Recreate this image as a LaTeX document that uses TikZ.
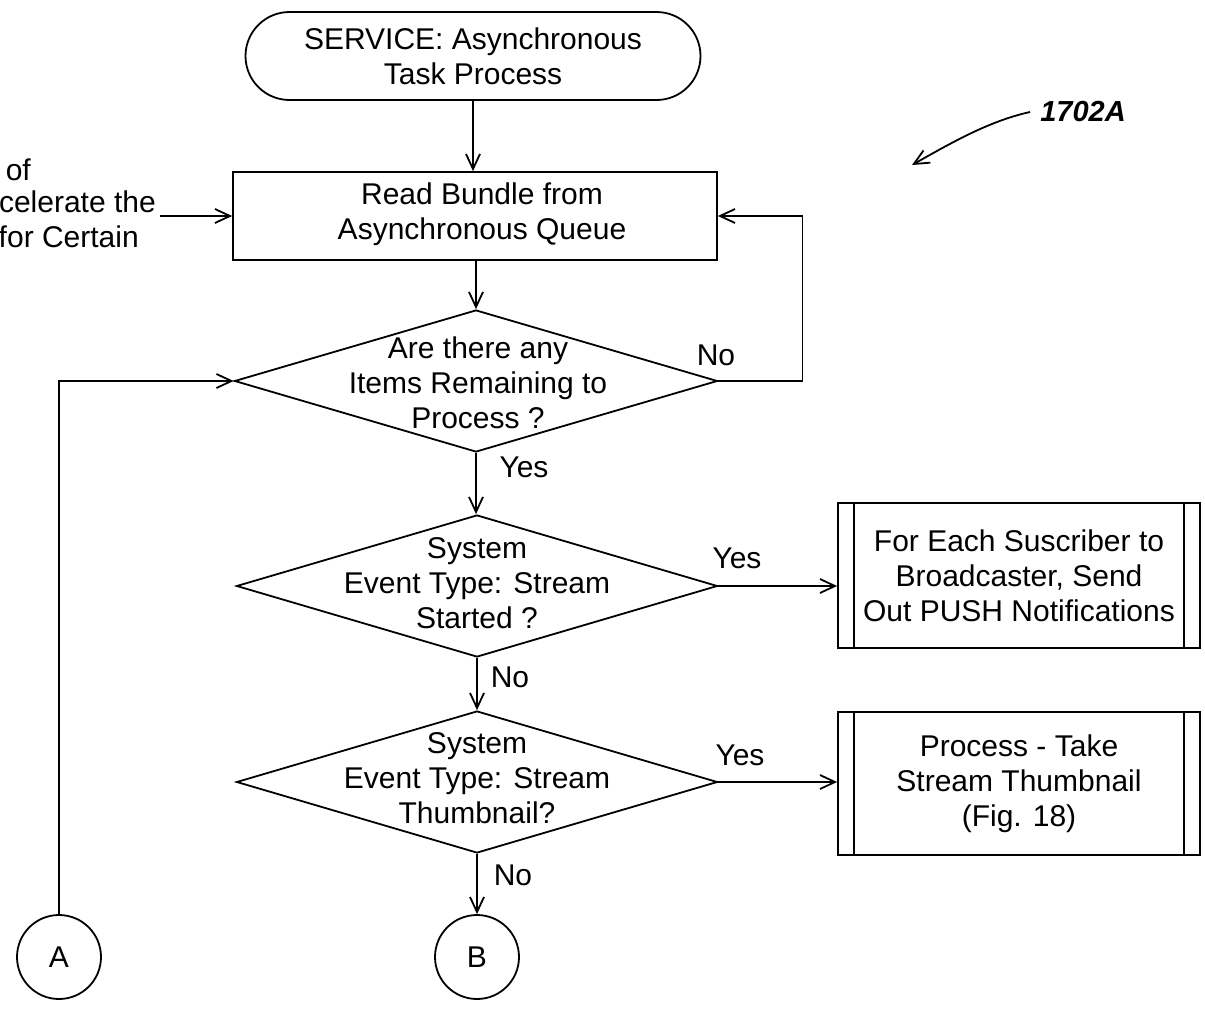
\documentclass[tikz,border=0pt]{standalone}
\usepackage{fontspec}
\setmainfont{Liberation Sans}
\usetikzlibrary{arrows.meta,shapes.geometric}
\begin{document}
\begin{tikzpicture}[x=1pt,y=-1pt,
  every node/.style={font=\fontsize{30}{35}\selectfont, align=center, inner sep=0pt},
  shapeline/.style={draw, line width=1.8pt},
  conn/.style={draw, line width=1.8pt, -{Straight Barb[length=15pt,width=14pt,line width=1.8pt]}},
  term/.style={shapeline, rectangle, rounded corners=44pt, minimum width=455pt, minimum height=88pt},
  procbox/.style={shapeline, rectangle, minimum width=484pt, minimum height=88pt},
  decision/.style={shapeline, diamond, minimum width=483pt, minimum height=142pt},
  predef/.style={shapeline, rectangle, minimum width=362pt, minimum height=145pt},
  conncircle/.style={shapeline, circle, minimum size=84pt},
  reflabel/.style={font=\fontsize{29}{35}\selectfont\bfseries\itshape}
]
\useasboundingbox (0,0) rectangle (1205,1009);

% shapes
\node[term] (start) at (473,56) {SERVICE: Asynchronous\\Task Process};
\node[procbox] (read) at (475,216) {};
\node (readt) at (482,214) {Read Bundle from\\Asynchronous Queue};
\node[decision] (d1) at (476,381) {};
\node (d1t) at (478,383) {Are there any\\Items Remaining to\\Process ?};
\node[decision, minimum width=481pt] (d2) at (477,586) {};
\node (d2t) at (477,583) {System\\Event Type: Stream\\Started ?};
\node[decision, minimum width=481pt] (d3) at (477,782) {};
\node (d3t) at (477,778) {System\\Event Type: Stream\\Thumbnail?};
\node[predef] (push) at (1019,575.5) {For Each Suscriber to\\Broadcaster, Send\\Out PUSH Notifications};
\node[predef, minimum height=143pt] (thumb) at (1019,783.5) {Process - Take\\Stream Thumbnail\\(Fig. 18)};
\node[conncircle] (A) at (59,957) {A};
\node[conncircle] (B) at (477,957) {B};

\foreach \n in {push,thumb} {
  \draw[shapeline] ([xshift=17pt]\n.north west) -- ([xshift=17pt]\n.south west);
  \draw[shapeline] ([xshift=-17pt]\n.north east) -- ([xshift=-17pt]\n.south east);
}

% cut-off text at left
\node[anchor=base east] (c1) at (31,180) {of};
\node[anchor=base east] (c2) at (156,212) {celerate the};
\node[anchor=base east] (c3) at (139,247) {for Certain};
\coordinate (lead) at (160,216);

% connector labels
\node (lyes1) at (524,467) {Yes};
\node (lno1) at (716,355) {No};
\node (lyes2) at (737,558) {Yes};
\node (lno2) at (510,677) {No};
\node (lyes3) at (740,755) {Yes};
\node (lno3) at (513,875) {No};

% reference label
\node[reflabel] (ref) at (1083,112) {1702A};

% connectors
\draw[conn] (start) -- (start |- read.north);
\draw[conn] (lead) -- (read.west);
\draw[conn] (d1.north |- read.south) -- (d1.north);
\draw[conn] (d1.east) -- ++(84,0) |- (read.east);
\draw[conn] (d1.south) -- (d1.south |- d2.north);
\draw[conn] (d2.east) -- (d2.east -| push.west);
\draw[conn] (d2.south) -- (d3.north);
\draw[conn] (d3.east) -- (d3.east -| thumb.west);
\draw[conn] (d3.south) -- (B.north);
\draw[conn] (A.north) |- (d1.west);
\draw[conn] ([xshift=-10pt]ref.west) .. controls (989,121) and (951,143) .. (912,165);
\end{tikzpicture}
\end{document}
